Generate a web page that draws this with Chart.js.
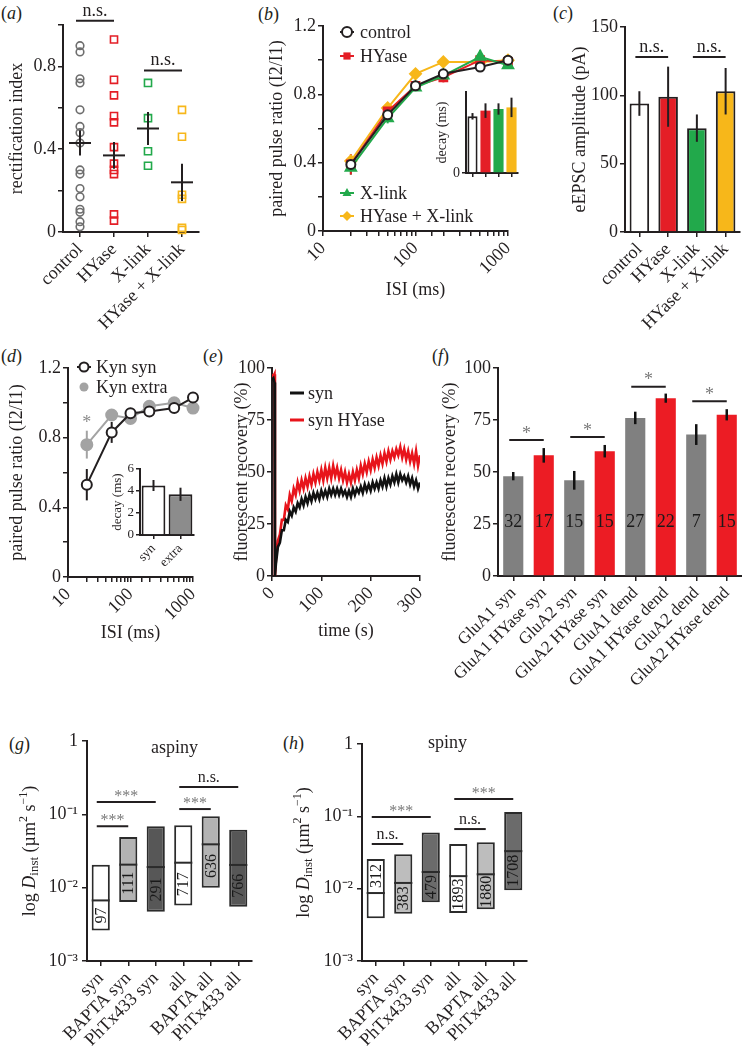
<!DOCTYPE html>
<html>
<head>
<meta charset="utf-8">
<script src="https://cdn.jsdelivr.net/npm/chart.js@4.4.1/dist/chart.umd.min.js"></script>
<style>
body{margin:0;background:#fff}
#fig{position:relative;width:742px;height:1049px;overflow:hidden;font-family:"Liberation Serif","Times New Roman",serif;color:#231f20}
.lab{position:absolute;font-size:18px;line-height:1}
.lab i{font-style:italic}
canvas{position:absolute}
</style>
</head>
<body>
<div id="fig">
  <div class="lab" style="left:1px;top:4px">(<i>a</i>)</div>
  <div class="lab" style="left:258px;top:5px">(<i>b</i>)</div>
  <div class="lab" style="left:553px;top:4px">(<i>c</i>)</div>
  <div class="lab" style="left:1px;top:347px">(<i>d</i>)</div>
  <div class="lab" style="left:203px;top:347px">(<i>e</i>)</div>
  <div class="lab" style="left:432px;top:347px">(<i>f</i>)</div>
  <div class="lab" style="left:9px;top:735px">(<i>g</i>)</div>
  <div class="lab" style="left:283px;top:734px">(<i>h</i>)</div>
</div>
<script>
// (a) rectification index
const aCats = ['control', 'HYase', 'X-link', 'HYase + X-link']
const aControl = [0.90, 0.87, 0.74, 0.72, 0.59, 0.51, 0.48, 0.43, 0.30, 0.28, 0.21, 0.17, 0.11, 0.095, 0.05, 0.025]
const aHYase = [0.93, 0.735, 0.66, 0.56, 0.53, 0.41, 0.33, 0.30, 0.28, 0.085, 0.055]
const aXlink = [0.72, 0.55, 0.39, 0.32]
const aBoth = [0.59, 0.46, 0.18, 0.16, 0.02, 0.01]
const aMean = [0.43, 0.37, 0.50, 0.24]
const aSem = [0.06, 0.065, 0.08, 0.09]
const aSig = [[0, 1, 1.02, 'n.s.'], [2, 3, 0.78, 'n.s.']]

// (b) paired pulse ratio
const isi = [20, 50, 100, 200, 500, 1000]
const bControl = [0.39, 0.68, 0.85, 0.92, 0.96, 1.00]
const bControlErr = [0.04, 0.03, 0.02, 0.02, 0.02, 0.02]
const bHYase = [0.39, 0.70, 0.85, 0.90, 1.00, 0.99]
const bHYaseErr = [0.06, 0.03, 0.03, 0.03, 0.03, 0.02]
const bXlink = [0.37, 0.66, 0.84, 0.91, 1.02, 0.97]
const bXlinkErr = [0.04, 0.03, 0.02, 0.02, 0.04, 0.02]
const bBoth = [0.41, 0.72, 0.92, 0.99, 0.99, 1.00]
const bBothErr = [0.03, 0.03, 0.02, 0.02, 0.02, 0.02]
const bDecay = [7.0, 7.7, 7.9, 8.1]
const bDecayErr = [0.4, 0.9, 0.7, 1.2]

// (c) eEPSC amplitude
const cAmp = [94, 99, 76, 103]
const cErr = [9, 22, 10, 17]
const cSig = [[0, 1, 128, 'n.s.'], [2, 3, 128, 'n.s.']]

// (d) kynurenate
const dSyn = [0.53, 0.83, 0.94, 0.95, 0.97, 1.03]
const dSynErr = [0.09, 0.06, 0.03, 0.02, 0.02, 0.02]
const dExtra = [0.76, 0.93, 0.91, 0.98, 1.00, 0.97]
const dExtraErr = [0.08, 0.02, 0.03, 0.02, 0.02, 0.02]
const dCats = ['syn', 'extra']
const dDecay = [4.5, 3.7]
const dDecayErr = [0.5, 0.6]

// (e) FRAP traces
const eTime = [0, 3, 5, 6, 8, 12, 16, 20, 24, 28, 32, 36, 40, 44, 48, 52, 56, 60, 64, 68, 72, 76, 80, 84, 88, 92, 96, 100,
  104, 108, 112, 116, 120, 124, 128, 132, 136, 140, 144, 148, 152, 156, 160, 164, 168, 172, 176, 180, 184, 188, 192, 196, 200,
  204, 208, 212, 216, 220, 224, 228, 232, 236, 240, 244, 248, 252, 256, 260, 264, 268, 272, 276, 280, 284, 288, 292, 296, 300]
const eSyn = [94, 95, 93, 0, 6, 14, 16, 22, 22, 27, 26, 31, 29, 33, 31, 35, 33, 37, 34, 38, 35, 39, 36, 40, 37, 40, 37, 41,
  38, 41, 38, 42, 39, 42, 39, 42, 39, 42, 39, 41, 38, 41, 38, 42, 39, 42, 40, 43, 40, 44, 41, 44, 41,
  45, 42, 45, 42, 46, 43, 47, 43, 47, 44, 48, 45, 49, 45, 49, 46, 48, 45, 48, 44, 47, 43, 46, 42, 45]
const eHYase = [97, 96, 97, 0, 8, 17, 20, 27, 27, 34, 32, 39, 36, 42, 39, 45, 41, 46, 42, 47, 43, 48, 44, 49, 45, 50, 46, 51,
  46, 52, 47, 52, 47, 53, 48, 52, 47, 51, 46, 50, 45, 49, 45, 50, 46, 51, 47, 53, 49, 54, 50, 55, 51,
  56, 52, 57, 53, 58, 54, 59, 55, 60, 56, 60, 57, 61, 58, 62, 57, 61, 56, 60, 55, 59, 54, 60, 53, 58]

// (f) fluorescent recovery per condition
const fCats = ['GluA1 syn', 'GluA1 HYase syn', 'GluA2 syn', 'GluA2 HYase syn', 'GluA1 dend', 'GluA1 HYase dend', 'GluA2 dend', 'GluA2 HYase dend']
const fRec = [48, 58, 46, 60, 76, 85.5, 68, 77.5]
const fErr = [2, 3.5, 4.5, 3, 3, 2.2, 5, 2.7]
const fN = ['32', '17', '15', '15', '27', '22', '7', '15']
const fSig = [[0, 1, 65.4, '*'], [2, 3, 66.8, '*'], [4, 5, 91, '*'], [6, 7, 84, '*']]

// (g) aspiny, (h) spiny diffusion coefficients
const gCats = ['syn', 'BAPTA syn', 'PhTx433 syn', 'all', 'BAPTA all', 'PhTx433 all']
const gLow = [0.0026, 0.0064, 0.0047, 0.0057, 0.010, 0.0055]
const gMed = [0.0067, 0.0206, 0.0191, 0.0219, 0.039, 0.0204]
const gHigh = [0.0206, 0.049, 0.0686, 0.0708, 0.094, 0.0618]
const gN = ['97', '111', '291', '717', '636', '766']
const gSig = [[0, 2, 0.147, '***'], [0, 1, 0.069, '***'], [3, 5, 0.236, 'n.s.'], [3, 4, 0.118, '***']]
const hLow = [0.0039, 0.0045, 0.0065, 0.0046, 0.0052, 0.0095]
const hMed = [0.0087, 0.012, 0.017, 0.0149, 0.0158, 0.033]
const hHigh = [0.0257, 0.030, 0.060, 0.0413, 0.0437, 0.115]
const hN = ['312', '383', '479', '1893', '1880', '1708']
const hNUpper = [true, false, false, false, false, false]
const hSig = [[0, 2, 0.098, '***'], [0, 1, 0.0414, 'n.s.'], [3, 5, 0.174, '***'], [3, 4, 0.0667, 'n.s.']]

const INK = '#231f20'
const SERIF = '"Liberation Serif", "Times New Roman", serif'
const RED = '#e41e26', GREEN = '#22a94b', YELLOW = '#f7b71a', GREY = '#6e6e6e'
Chart.defaults.font.family = SERIF
Chart.defaults.font.size = 18
Chart.defaults.color = INK

function merge(a, b) {
  for (const k in b) {
    if (b[k] && typeof b[k] === 'object' && !Array.isArray(b[k]) && a[k] && typeof a[k] === 'object') merge(a[k], b[k])
    else a[k] = b[k]
  }
  return a
}
// axis look shared by all panels: thick axis line, outward ticks, no grid
function sc(o) {
  return merge({
    border: {display: true, color: INK, width: 2},
    grid: {drawOnChartArea: false, drawTicks: true, tickLength: 5, color: INK, lineWidth: 1.5},
    ticks: {color: INK, padding: 2, autoSkip: false, maxRotation: 0, minRotation: 0}
  }, o)
}
const xy = (xs, ys) => xs.map((x, i) => ({x, y: ys[i]}))
const dec = v => String(Math.round(v * 10) / 10)

// error bars from dataset.err, drawn before or after the marks
function errLines(ch, when) {
  ch.data.datasets.forEach((ds, k) => {
    if (!ds.err || (ds.errAfter ? 'after' : 'before') !== when) return
    const meta = ch.getDatasetMeta(k), y = ch.scales.y, ctx = ch.ctx
    ctx.save()
    ctx.strokeStyle = ds.errColor || ds.borderColor
    ctx.lineWidth = ds.errWidth || 2
    meta.data.forEach((el, i) => {
      const raw = ds.data[i], v = typeof raw === 'object' ? raw.y : raw
      ctx.beginPath()
      ctx.moveTo(el.x, y.getPixelForValue(v - ds.err[i]))
      ctx.lineTo(el.x, y.getPixelForValue(v + ds.err[i]))
      ctx.stroke()
    })
    ctx.restore()
  })
}
Chart.register({id: 'errs', beforeDatasetsDraw: ch => errLines(ch, 'before'), afterDatasetsDraw: ch => errLines(ch, 'after')})

function sigBars(ch, list, color, size) {
  const {x, y} = ch.scales, ctx = ch.ctx
  ctx.save()
  list.forEach(([i, j, v, t]) => {
    const xa = x.getPixelForValue(i) - 4, xb = x.getPixelForValue(j), py = y.getPixelForValue(v)
    ctx.strokeStyle = INK; ctx.lineWidth = 2
    ctx.beginPath(); ctx.moveTo(xa, py); ctx.lineTo(xb, py); ctx.stroke()
    ctx.fillStyle = t === 'n.s.' ? INK : color
    ctx.font = size + 'px ' + SERIF
    ctx.textAlign = 'center'; ctx.textBaseline = 'bottom'
    ctx.fillText(t, (xa + xb) / 2, py - (t === 'n.s.' ? 1 : -3))
  })
  ctx.restore()
}

function mark(ctx, style, x, y, r, fill, stroke, lw) {
  ctx.save(); ctx.beginPath()
  if (style === 'circle') ctx.arc(x, y, r, 0, 2 * Math.PI)
  else if (style === 'rect') ctx.rect(x - r * 0.72, y - r * 0.72, r * 1.44, r * 1.44)
  else if (style === 'triangle') { ctx.moveTo(x, y - r); ctx.lineTo(x + r * 0.9, y + r * 0.6); ctx.lineTo(x - r * 0.9, y + r * 0.6); ctx.closePath() }
  else if (style === 'rectRot') { ctx.moveTo(x, y - r); ctx.lineTo(x + r, y); ctx.lineTo(x, y + r); ctx.lineTo(x - r, y); ctx.closePath() }
  ctx.fillStyle = fill; ctx.fill()
  if (lw) { ctx.strokeStyle = stroke; ctx.lineWidth = lw; ctx.stroke() }
  ctx.restore()
}
// legend rows: [dy, text, color, style, fill, markerBorder, withLine]
function legend(ch, dx, tx, rows, r) {
  const ctx = ch.ctx, ca = ch.chartArea
  rows.forEach(([dy, text, color, style, fill, lw, withLine]) => {
    const cx = ca.left + dx, cy = ca.top + dy
    ctx.save()
    if (withLine) {
      ctx.strokeStyle = color; ctx.lineWidth = style ? 2 : 3
      ctx.beginPath(); ctx.moveTo(cx - 7, cy); ctx.lineTo(cx + 7, cy); ctx.stroke()
    }
    if (style) mark(ctx, style, cx, cy, r || 5, fill, color, lw)
    ctx.fillStyle = INK; ctx.font = '18px ' + SERIF; ctx.textBaseline = 'middle'
    ctx.fillText(text, ca.left + tx, cy + 1)
    ctx.restore()
  })
}

function panel(area, yW, xH, padT, padR, config) {
  const [x0, y0, x1, y1] = area
  const w = x1 - x0 + yW + padR, h = y1 - y0 + padT + xH
  const cv = document.createElement('canvas')
  cv.width = w; cv.height = h
  cv.style.cssText = 'left:' + (x0 - yW) + 'px;top:' + (y0 - padT) + 'px;width:' + w + 'px;height:' + h + 'px'
  document.getElementById('fig').appendChild(cv)
  const o = config.options
  o.responsive = false; o.animation = false; o.events = []
  o.layout = {padding: {top: padT, right: padR, left: 0, bottom: 0}}
  o.plugins = Object.assign({legend: {display: false}, tooltip: {enabled: false}}, o.plugins || {})
  o.scales.x.afterFit = s => { s.height = xH; s.paddingLeft = 0; s.paddingRight = 0 }
  o.scales.y.afterFit = s => { s.width = yW; s.paddingTop = 0; s.paddingBottom = 0 }
  return new Chart(cv, config)
}

// ---------- (a)
const aColors = [GREY, RED, GREEN, YELLOW]
panel([63, 25, 199, 232], 63, 108, 25, 40, {
  type: 'line',
  data: {
    labels: aCats,
    datasets: [
      {data: xy(aCats, aMean), err: aSem, errAfter: true, errColor: INK, showLine: false, pointStyle: 'line',
        pointRadius: 11, pointBorderWidth: 2, pointBorderColor: INK, borderColor: INK, clip: false}
    ].concat([aControl, aHYase, aXlink, aBoth].map((vals, k) => ({
      data: vals.map(v => ({x: aCats[k], y: v})), showLine: false,
      pointStyle: k === 0 ? 'circle' : 'rect', pointRadius: k === 0 ? 3.8 : 5,
      pointBorderColor: aColors[k], pointBackgroundColor: 'rgba(255,255,255,0)', pointBorderWidth: 1.6, clip: false
    })))
  },
  options: {
    scales: {
      x: sc({type: 'category', offset: true, grid: {offset: false}, ticks: {maxRotation: 45, minRotation: 45}}),
      y: sc({min: 0, max: 1, ticks: {stepSize: 0.2, callback: v => Math.round(v * 10) % 4 === 0 ? dec(v) : ''},
        title: {display: true, text: 'rectification index', padding: {top: 6}}})
    }
  },
  plugins: [{id: 'aSig', afterDatasetsDraw: ch => sigBars(ch, aSig, INK, 18)}]
})

// ---------- (b)
const logX = (pb, title) => sc({type: 'logarithmic', min: 10, max: 1000,
  ticks: {maxRotation: 45, minRotation: 45, callback: v => [10, 100, 1000].includes(v) ? String(v) : ''},
  title: {display: true, text: title, padding: {bottom: pb}}})
const ppY = pt => sc({min: 0, max: 1.2, ticks: {stepSize: 0.2, callback: v => Math.round(v * 10) % 4 === 0 ? dec(v) : ''},
  title: {display: true, text: 'paired pulse ratio (I2/I1)', padding: {top: pt}}})
const ppSet = (vals, err, color, fill, style, r) => ({data: xy(isi, vals), err, borderColor: color, borderWidth: 2,
  pointStyle: style, pointRadius: r, pointBorderColor: color, pointBackgroundColor: fill, pointBorderWidth: 2, clip: false})
panel([323, 26, 508, 231], 83, 109, 26, 12, {
  type: 'line',
  data: {datasets: [
    ppSet(bControl, bControlErr, INK, '#fff', 'circle', 4.5),
    ppSet(bXlink, bXlinkErr, GREEN, GREEN, 'triangle', 6),
    ppSet(bHYase, bHYaseErr, RED, RED, 'rect', 5.5),
    ppSet(bBoth, bBothErr, YELLOW, YELLOW, 'rectRot', 5.5)
  ]},
  options: {scales: {x: logX(39, 'ISI (ms)'), y: ppY(26)}},
  plugins: [{id: 'bLeg', afterDatasetsDraw: ch => legend(ch, 24, 37, [
    [6, 'control', INK, 'circle', '#fff', 2, true],
    [30, 'HYase', RED, 'rect', RED, 0, true],
    [167, 'X-link', GREEN, 'triangle', GREEN, 0, true],
    [190, 'HYase + X-link', YELLOW, 'rectRot', YELLOW, 0, true]
  ])}]
})
panel([466, 92, 518, 173], 34, 8, 6, 4, {
  type: 'bar',
  data: {labels: aCats, datasets: [{data: bDecay, err: bDecayErr, errAfter: true, errColor: INK,
    backgroundColor: ['#fff', RED, GREEN, YELLOW], borderColor: INK, borderWidth: [2, 0, 0, 0],
    barPercentage: 0.78, categoryPercentage: 1}]},
  options: {scales: {
    x: sc({grid: {offset: false, tickLength: 4}, ticks: {display: false}}),
    y: sc({min: 0, max: 10, afterBuildTicks: s => { s.ticks = s.ticks.filter(t => t.value % 4 === 0) },
      grid: {tickLength: 4}, ticks: {font: {size: 14}},
      title: {display: true, text: 'decay (ms)', font: {size: 14}, padding: {top: 2}}})
  }}
})

// ---------- (c)
panel([625, 27, 740, 232], 65, 108, 27, 2, {
  type: 'bar',
  data: {labels: aCats, datasets: [{data: cAmp, err: cErr, errAfter: true, errColor: INK,
    backgroundColor: ['#fff', RED, GREEN, YELLOW], borderColor: INK, borderWidth: 2,
    barPercentage: 0.68, categoryPercentage: 1}]},
  options: {scales: {
    x: sc({grid: {offset: false}, ticks: {maxRotation: 45, minRotation: 45}}),
    y: sc({min: 0, max: 150, ticks: {stepSize: 50}, title: {display: true, text: 'eEPSC amplitude (pA)', padding: {top: 9}}})
  }},
  plugins: [{id: 'cSig', afterDatasetsDraw: ch => sigBars(ch, cSig, INK, 18)}]
})

// ---------- (d)
panel([68, 368, 193, 577], 68, 100, 28, 14, {
  type: 'line',
  data: {datasets: [
    ppSet(dSyn, dSynErr, INK, '#fff', 'circle', 5),
    ppSet(dExtra, dExtraErr, '#a3a3a3', '#a3a3a3', 'circle', 5.5)
  ]},
  options: {scales: {x: logX(33, 'ISI (ms)'), y: ppY(6)}},
  plugins: [{id: 'dLeg', afterDatasetsDraw: ch => {
    legend(ch, 16, 28, [
      [-1, 'Kyn syn', INK, 'circle', '#fff', 2, true],
      [19, 'Kyn extra', '#a3a3a3', 'circle', '#a3a3a3', 0, false]
    ], 4.5)
    const ctx = ch.ctx
    ctx.save(); ctx.fillStyle = '#8a8a8a'; ctx.font = '18px ' + SERIF; ctx.textAlign = 'center'; ctx.textBaseline = 'middle'
    ctx.fillText('*', ch.scales.x.getPixelForValue(isi[0]), ch.scales.y.getPixelForValue(0.885))
    ctx.restore()
  }}]
})
panel([140, 469, 194, 535], 32, 45, 6, 4, {
  type: 'bar',
  data: {labels: dCats, datasets: [{data: dDecay, err: dDecayErr, errAfter: true, errColor: INK,
    backgroundColor: ['#fff', '#8c8c8c'], borderColor: INK, borderWidth: 2, barPercentage: 0.88, categoryPercentage: 1}]},
  options: {scales: {
    x: sc({grid: {offset: false, tickLength: 4}, ticks: {maxRotation: 45, minRotation: 45, font: {size: 13}}}),
    y: sc({min: 0, max: 6, ticks: {stepSize: 2, font: {size: 13}}, grid: {tickLength: 4},
      title: {display: true, text: 'decay (ms)', font: {size: 13}, padding: {top: 2}}})
  }}
})

// ---------- (e)
panel([272, 368, 420, 576], 44, 100, 28, 12, {
  type: 'line',
  data: {datasets: [
    {data: xy(eTime, eSyn), borderColor: '#111', borderWidth: 2.6, pointRadius: 0},
    {data: xy(eTime, eHYase), borderColor: '#e8141b', borderWidth: 2.6, pointRadius: 0}
  ]},
  options: {scales: {
    x: sc({type: 'linear', min: 0, max: 300, ticks: {stepSize: 100, maxRotation: 45, minRotation: 45},
      title: {display: true, text: 'time (s)', padding: {bottom: 34}}}),
    y: sc({min: 0, max: 100, ticks: {stepSize: 25}, title: {display: true, text: 'fluorescent recovery (%)', padding: {top: 3}}})
  }},
  plugins: [{id: 'eLeg', afterDatasetsDraw: ch => legend(ch, 25, 36, [
    [25, 'syn', '#111', null, null, 0, true],
    [52, 'syn HYase', '#e8141b', null, null, 0, true]
  ])}]
})

// ---------- (f)
panel([498, 368, 742, 576], 62, 120, 28, 0, {
  type: 'bar',
  data: {labels: fCats, datasets: [{data: fRec, err: fErr, errAfter: true, errColor: '#111', errWidth: 2.5,
    backgroundColor: fCats.map((c, i) => i % 2 ? '#ec1c24' : '#808080'), borderWidth: 0,
    barPercentage: 0.66, categoryPercentage: 1}]},
  options: {scales: {
    x: sc({grid: {offset: false}, ticks: {maxRotation: 45, minRotation: 45, font: {size: 17}}}),
    y: sc({min: 0, max: 100, ticks: {stepSize: 25}, title: {display: true, text: 'fluorescent recovery (%)', padding: {top: 3}}})
  }},
  plugins: [{id: 'fAnn', afterDatasetsDraw: ch => {
    const ctx = ch.ctx, {x, y} = ch.scales
    ctx.save(); ctx.fillStyle = '#1a1a1a'; ctx.font = '18px ' + SERIF; ctx.textAlign = 'center'; ctx.textBaseline = 'middle'
    fN.forEach((n, i) => ctx.fillText(n, x.getPixelForValue(i), y.getPixelForValue(26)))
    ctx.restore()
    sigBars(ch, fSig, '#7a7a7a', 18)
  }}]
})

// ---------- (g), (h)
const SUP = {'-1': '\u207b\u00b9', '-2': '\u207b\u00b2', '-3': '\u207b\u00b3'}
function richV(ctx, cx, cy) {
  const parts = [['log ', '18px', 0], ['D', 'italic 18px', 0], ['inst', '13px', 5], [' (\u00b5m', '18px', 0],
    ['2', '12px', -6], [' s', '18px', 0], ['\u22121', '12px', -6], [')', '18px', 0]]
  ctx.save(); ctx.translate(cx, cy); ctx.rotate(-Math.PI / 2)
  let w = 0
  parts.forEach(p => { ctx.font = p[1] + ' ' + SERIF; w += ctx.measureText(p[0]).width })
  let px = -w / 2
  ctx.fillStyle = INK; ctx.textBaseline = 'middle'; ctx.textAlign = 'left'
  parts.forEach(p => { ctx.font = p[1] + ' ' + SERIF; ctx.fillText(p[0], px, p[2]); px += ctx.measureText(p[0]).width })
  ctx.restore()
}
function dPanel(area, yW, padT, low, med, high, ns, nUpper, sig, fills, title, titleDy, titleDx) {
  // the two halves carry no border at the median; the median line is drawn once below
  const box = (vals, bw) => ({data: vals, backgroundColor: fills, borderColor: '#2b2b2b', borderWidth: bw, borderSkipped: false,
    grouped: false, barPercentage: 0.66, categoryPercentage: 1})
  panel(area, yW, 88, padT, 10, {
    type: 'bar',
    data: {labels: gCats, datasets: [
      box(gCats.map((c, i) => [low[i], med[i]]), {left: 2, right: 2, bottom: 2, top: 0}),
      box(gCats.map((c, i) => [med[i], high[i]]), {left: 2, right: 2, bottom: 0, top: 2})
    ]},
    options: {scales: {
      x: sc({grid: {offset: false}, ticks: {maxRotation: 45, minRotation: 45}}),
      y: sc({type: 'logarithmic', min: 0.001, max: 1,
        afterBuildTicks: s => { s.ticks = s.ticks.filter(t => Math.abs(Math.log10(t.value) - Math.round(Math.log10(t.value))) < 1e-6) },
        ticks: {padding: 4, callback: v => { const e = Math.round(Math.log10(v)); return e === 0 ? '1' : '10' + SUP[e] }}})
    }},
    plugins: [{id: 'box', afterDatasetsDraw: ch => {
      const ctx = ch.ctx, {x, y} = ch.scales, ca = ch.chartArea
      const bars = ch.getDatasetMeta(0).data
      ctx.save(); ctx.strokeStyle = '#2b2b2b'; ctx.lineWidth = 2
      bars.forEach((b, i) => {
        const py = y.getPixelForValue(med[i])
        ctx.beginPath(); ctx.moveTo(b.x - b.width / 2, py); ctx.lineTo(b.x + b.width / 2, py); ctx.stroke()
      })
      ctx.restore()
      ns.forEach((n, i) => {
        const a = nUpper[i] ? high[i] : low[i]
        const cy = (y.getPixelForValue(a) + y.getPixelForValue(med[i])) / 2
        ctx.save(); ctx.translate(x.getPixelForValue(i), cy); ctx.rotate(-Math.PI / 2)
        ctx.fillStyle = '#1a1a1a'; ctx.font = '16px ' + SERIF; ctx.textAlign = 'center'; ctx.textBaseline = 'middle'
        ctx.fillText(n, 0, 1)
        ctx.restore()
      })
      sigBars(ch, sig, '#7a7a7a', 16)
      ctx.save(); ctx.fillStyle = INK; ctx.font = '18px ' + SERIF; ctx.textAlign = 'center'; ctx.textBaseline = 'middle'
      ctx.fillText(title, (ca.left + ca.right) / 2 + titleDx, ca.top + titleDy)
      ctx.restore()
      richV(ctx, ca.left - yW + (yW === 87 ? 30 : 22), (ca.top + ca.bottom) / 2)
    }}]
  })
}
dPanel([87, 741, 252, 961], 87, 41, gLow, gMed, gHigh, gN, gN.map(() => false), gSig,
  ['#fff', '#b3b3b3', '#575757', '#fff', '#b3b3b3', '#575757'], 'aspiny', 7, 5)
dPanel([362, 744, 527, 961], 80, 44, hLow, hMed, hHigh, hN, hNUpper, hSig,
  ['#fff', '#bdbdbd', '#6b6b6b', '#fff', '#bdbdbd', '#6b6b6b'], 'spiny', -1, 3)
</script>
</body>
</html>
